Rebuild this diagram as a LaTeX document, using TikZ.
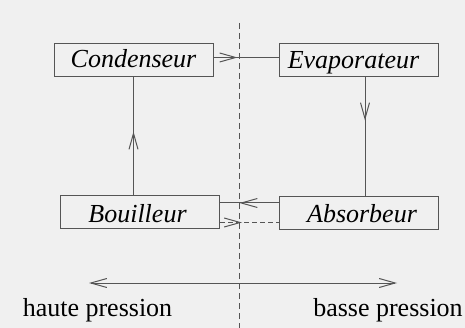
\documentclass[tikz,border=0pt]{standalone}
\usepackage{fontspec}
\setmainfont{Liberation Serif}
\usetikzlibrary{arrows.meta,decorations.markings}
\definecolor{bg}{HTML}{F0F0F0}
\definecolor{ln}{HTML}{555555}
\tikzset{
  box/.style={draw=ln, line width=1pt, minimum width=159pt, minimum height=33pt, inner sep=0pt, fill=bg},
  lbl/.style={anchor=base, inner sep=0pt, font=\fontsize{26}{30}\selectfont\itshape},
  plain/.style={anchor=base, inner sep=0pt, font=\fontsize{26}{30}\selectfont},
  conn/.style={draw=ln, line width=1pt},
  barb/.tip={Straight Barb[length=16pt,width=9pt,line width=1pt]},
  midarrow/.style={postaction={solid, decorate, decoration={markings, mark=at position #1 with {\arrow{barb}}}}}
}
\begin{document}
\begin{tikzpicture}[x=1pt,y=-1pt]
\fill[bg] (0,0) rectangle (465,328);
\useasboundingbox (0,0) rectangle (465,328);
% divider
\coordinate (dt) at (239,23);
\coordinate (db) at (239,328);
\draw[conn, dash pattern=on 6pt off 4pt] (dt) -- (db);
% boxes
\node[box] (cond) at (133.5,60.5) {};
\node[box] (evap) at (358.5,60.5) {};
\node[box] (bouil) at (140,212.5) {};
\node[box] (absb) at (358.5,213) {};
\node[lbl] (tcond) at (133.5,68) {Condenseur};
\node[lbl] (tevap) at (353.5,68.5) {Evaporateur};
\node[lbl] (tbouil) at (137.5,222.5) {Bouilleur};
\node[lbl] (tabs) at (362,223) {Absorbeur};
% connectors
\draw[conn, midarrow=24pt] ([yshift=3pt]cond.east) -- ([yshift=3pt]evap.west);
\draw[conn, midarrow=43pt] ([xshift=6.5pt]evap.south) -- ([xshift=6.5pt]evap.south |- absb.north);
\draw[conn, midarrow=39pt] ([yshift=10pt]absb.west) -- ([yshift=10pt]absb.west -| bouil.east);
\draw[conn, dash pattern=on 5pt off 3pt, midarrow=22pt] ([yshift=-10pt]bouil.east) -- ([yshift=-10pt]bouil.east -| absb.west);
\draw[conn, midarrow=64pt] (cond.south |- bouil.north) -- (cond.south);
% pressure arrow
\coordinate (hp) at (89,283);
\coordinate (bp) at (397,283);
\draw[conn, {barb}-{barb}] (hp) -- (bp);
\node[plain] (thp) at (97.5,316) {haute pression};
\node[plain] (tbp) at (388,316) {basse pression};
\end{tikzpicture}
\end{document}
